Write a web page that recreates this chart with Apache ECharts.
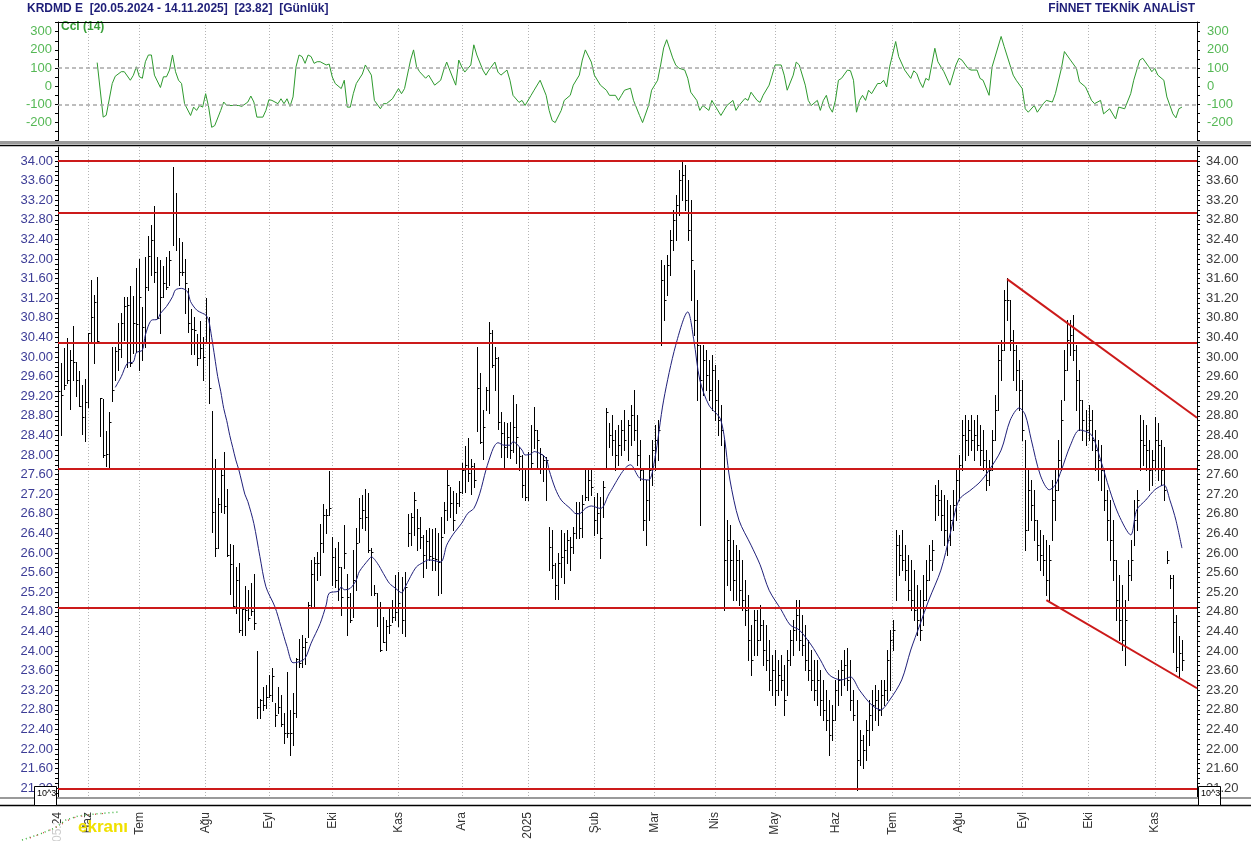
<!DOCTYPE html>
<html><head><meta charset="utf-8">
<script src="https://cdn.jsdelivr.net/npm/echarts@6/dist/echarts.min.js"></script>
<style>html,body{margin:0;padding:0;background:#fff;}#c{width:1251px;height:841px;}</style>
</head><body><div id="c"></div>
<script>
// ---- data ----
const monthTicks = [[0,'05.24'],[10,'Haz'],[27,'Tem'],[49,'Ağu'],[70,'Eyl'],[91,'Eki'],[113,'Kas'],[134,'Ara'],[156,'2025'],[178,'Şub'],[198,'Mar'],[218,'Nis'],[238,'May'],[258,'Haz'],[277,'Tem'],[299,'Ağu'],[320,'Eyl'],[342,'Eki'],[364,'Kas']];
const priceLabels = [21.20,21.60,22.00,22.40,22.80,23.20,23.60,24.00,24.40,24.80,25.20,25.60,26.00,26.40,26.80,27.20,27.60,28.00,28.40,28.80,29.20,29.60,30.00,30.40,30.80,31.20,31.60,32.00,32.40,32.80,33.20,33.60,34.00];
const cciLabels = [-200,-100,0,100,200,300];
const levels = [34.00,32.94,30.29,27.71,24.88,21.19];
const trendUpper = [[315,31.59],[378,28.76]];
const trendLower = [[328,25.04],[378,23.24]];
const highs = [29.60,29.87,30.18,30.38,30.14,30.63,29.90,29.72,29.43,29.56,30.48,31.57,31.27,31.64,29.16,29.14,28.48,28.88,30.20,30.21,30.69,30.89,31.23,31.23,31.45,31.25,31.81,32.01,31.03,32.05,32.47,32.69,33.08,32.05,31.98,31.86,32.05,32.17,33.88,33.34,32.42,32.35,32.01,31.40,30.97,30.82,30.47,30.74,30.41,31.20,30.82,28.90,27.91,27.12,27.69,28.07,27.30,26.18,26.16,25.71,25.80,24.87,25.33,25.25,25.39,25.57,23.99,23.03,23.27,23.31,23.51,23.65,22.93,23.27,23.10,22.73,23.58,22.80,23.14,23.85,24.24,24.33,24.26,24.99,25.86,25.92,26.03,26.60,27.01,26.89,27.68,26.32,26.10,26.23,25.72,26.57,25.57,25.19,26.06,26.52,27.12,27.18,27.30,27.22,26.10,25.35,25.18,25.01,24.70,24.63,24.87,25.04,25.55,25.62,25.52,25.62,26.80,26.82,27.25,26.89,26.73,26.37,26.47,26.50,26.48,26.50,26.40,26.74,27.05,27.73,27.35,27.27,27.22,27.46,27.83,28.18,28.34,27.91,27.84,30.21,29.67,28.92,29.38,30.72,30.56,30.21,29.99,28.88,28.68,28.66,28.68,29.22,29.05,28.17,28.00,27.73,28.07,28.61,28.97,28.51,28.14,28.00,27.96,26.54,26.47,25.79,25.99,26.47,26.40,26.47,26.33,26.54,27.05,27.05,27.18,27.69,27.69,27.69,27.15,27.22,27.15,27.46,28.95,28.65,
  28.82,28.51,28.61,28.71,28.92,28.71,29.02,29.33,28.82,28.31,27.69,27.49,28.00,28.31,28.61,28.71,31.98,31.88,32.08,32.59,33.00,33.31,33.82,34.02,33.92,33.61,33.20,31.78,31.16,30.24,30.24,30.14,29.94,30.04,29.84,29.53,29.02,28.31,26.67,26.57,26.27,26.16,26.06,25.86,25.45,25.14,24.53,24.84,24.84,24.94,24.63,24.53,24.22,23.92,24.02,23.82,23.92,23.71,24.02,24.43,24.63,25.04,25.04,24.73,24.53,24.22,24.02,23.82,23.82,23.61,23.41,23.20,23.00,22.90,23.41,23.61,23.82,24.02,24.06,23.82,23.20,23.00,22.39,22.29,22.59,23.00,23.20,23.31,23.20,23.41,23.41,24.02,24.43,24.63,26.47,26.37,26.47,26.16,25.96,25.86,25.65,25.35,25.24,25.55,25.86,26.16,26.27,27.39,27.49,27.29,27.18,27.08,26.98,27.29,27.69,28.00,28.71,28.82,28.71,28.82,28.71,28.82,28.61,28.51,28.10,27.90,28.51,29.22,30.24,30.35,31.37,31.61,31.16,30.55,30.24,29.94,29.53,28.31,27.69,27.49,27.29,26.67,26.47,26.37,26.27,26.16,27.49,27.69,28.31,29.12,30.14,30.76,30.76,30.86,30.24,29.73,29.12,28.92,29.02,28.92,28.51,28.31,28.20,27.69,27.29,27.08,26.67,25.86,25.55,25.35,25.04,25.86,26.27,27.08,27.29,28.82,28.71,28.61,28.31,28.10,28.78,28.65,28.31,28.17,26.05,25.55,25.55,24.73,24.31,24.22];
const lows = [28.60,28.41,29.34,29.46,28.93,29.53,29.20,28.99,28.43,28.29,28.97,30.32,29.87,30.31,28.39,27.95,27.77,27.76,29.11,29.53,29.73,30.01,30.35,29.80,29.82,30.09,30.11,29.73,29.94,30.21,31.37,31.67,31.54,30.79,30.48,31.23,31.38,31.47,32.29,32.18,31.47,31.67,30.89,30.52,30.06,30.07,29.84,29.97,29.53,30.28,29.07,26.42,25.94,26.11,26.84,26.82,25.93,25.16,24.91,24.77,24.39,24.33,24.33,24.63,24.73,24.44,22.63,22.63,22.80,22.83,23.07,22.97,22.46,22.73,22.46,22.13,22.25,21.88,22.08,22.66,23.68,23.68,23.73,24.29,24.90,24.90,25.45,25.55,26.03,26.40,26.78,25.35,25.31,25.04,24.73,25.69,24.33,24.60,24.70,25.25,26.23,26.50,26.47,26.03,25.14,25.14,24.50,23.99,24.19,24.02,24.36,24.60,24.63,24.50,24.36,24.31,26.14,26.16,26.37,26.06,26.10,25.52,25.70,25.86,25.65,25.65,25.14,25.18,26.40,26.67,26.74,26.47,26.81,26.95,27.22,27.25,27.46,27.20,27.35,28.48,28.24,27.91,28.92,28.85,29.80,29.33,28.54,27.96,27.76,27.96,27.93,28.07,27.83,27.69,27.15,27.08,27.08,27.73,28.14,27.76,27.63,27.46,27.08,25.65,25.48,25.07,25.07,25.52,25.38,25.79,25.65,26.00,26.30,26.30,26.33,27.08,27.08,27.18,26.37,26.40,25.89,26.74,27.73,28.17,
  28.00,27.69,27.80,28.00,28.10,27.90,28.20,28.31,27.80,27.49,26.47,26.16,26.67,27.39,27.69,27.90,30.24,30.76,31.27,31.67,32.18,32.39,32.90,33.20,33.00,32.39,31.16,30.45,29.12,26.57,29.22,29.33,29.12,28.92,28.71,28.41,28.20,24.84,25.35,25.24,25.04,25.04,24.94,24.84,24.53,23.82,23.51,23.92,23.92,24.22,23.71,23.61,23.20,23.10,22.90,23.10,23.20,22.69,23.10,23.71,23.92,24.22,24.02,23.92,23.61,23.41,23.20,23.00,22.90,22.69,22.59,22.39,21.88,22.18,22.59,22.90,23.10,23.31,23.20,22.80,22.59,21.16,21.67,21.61,21.78,22.08,22.39,22.59,22.49,22.69,22.90,23.00,23.20,24.02,25.04,25.55,25.65,25.45,25.04,24.84,24.63,24.33,24.22,24.53,25.04,25.45,25.65,26.67,26.78,26.47,26.16,25.96,26.16,26.47,26.67,27.08,27.69,27.90,28.00,28.10,27.90,28.10,27.80,27.69,27.29,27.39,27.69,28.31,28.92,29.53,30.14,30.76,30.14,29.53,29.33,28.92,28.31,26.06,26.47,26.67,26.27,25.86,25.65,25.55,25.14,25.04,26.27,26.67,27.29,27.69,29.12,29.73,30.04,29.94,28.92,28.51,28.31,28.20,28.31,28.10,27.69,27.49,27.29,26.88,26.27,25.86,25.45,24.63,24.22,24.02,23.71,25.04,25.45,26.16,26.47,27.69,27.80,27.69,27.29,27.39,27.69,27.49,27.39,27.08,25.80,25.29,23.98,23.59,23.47,23.61];
const closes = [29.30,29.22,29.43,29.53,29.94,29.90,29.53,29.00,28.78,29.09,30.48,30.82,31.13,30.33,29.16,28.01,28.02,28.67,29.33,30.13,30.16,30.69,31.04,31.06,29.87,30.69,30.67,31.23,30.62,31.43,32.06,32.39,31.74,30.79,31.23,31.50,31.43,31.98,32.93,32.93,31.74,31.74,31.50,30.70,30.58,30.55,29.97,30.18,30.01,30.28,29.36,26.84,26.10,27.01,27.59,26.95,25.96,25.78,24.92,25.45,24.43,24.85,24.84,24.67,24.82,24.58,22.85,23.01,22.90,23.07,23.10,23.48,22.69,22.86,22.51,22.32,22.32,22.32,22.73,23.83,23.76,24.09,24.19,24.94,25.57,25.79,25.79,26.21,26.78,26.78,26.91,25.92,25.45,25.72,25.11,25.99,25.11,24.63,25.45,26.20,26.71,26.88,26.74,26.06,26.03,25.18,24.87,24.02,24.19,24.50,24.53,24.70,24.80,24.97,24.63,25.31,26.40,26.73,27.08,26.50,26.33,25.96,26.25,25.93,25.89,25.87,25.82,26.33,26.88,27.39,27.03,26.67,27.03,27.25,27.69,27.80,27.63,27.78,27.49,29.36,28.27,28.58,29.33,30.48,29.84,29.97,28.68,28.44,28.17,28.37,28.10,28.58,28.37,27.98,27.39,27.15,27.73,27.83,28.51,28.31,28.03,27.90,27.90,26.13,25.76,25.35,25.79,25.92,26.06,26.27,26.13,26.40,26.81,26.50,27.01,27.15,27.49,27.35,26.67,26.81,26.30,27.35,28.88,28.40,
  28.31,28.00,28.20,28.51,28.31,28.61,28.82,28.51,28.00,27.69,26.67,27.08,27.69,28.10,28.31,28.51,31.57,31.16,31.88,32.39,32.80,33.10,33.61,33.71,33.20,32.59,31.98,30.76,30.24,29.53,29.94,29.63,29.33,29.73,29.12,28.71,28.51,25.86,26.27,25.86,25.45,25.86,25.24,25.04,24.84,24.22,23.82,24.63,24.22,24.53,24.02,23.82,23.41,23.61,23.20,23.51,23.41,23.00,23.82,24.22,24.43,24.73,24.22,24.12,23.82,23.61,23.41,23.20,23.41,23.00,22.80,22.59,22.29,22.59,23.20,23.41,23.61,23.71,23.41,23.00,22.69,21.78,22.18,21.98,22.39,22.69,22.90,23.00,22.80,23.10,23.20,23.82,24.22,24.43,26.16,25.96,25.86,25.65,25.24,25.04,24.84,24.63,24.43,25.04,25.45,25.86,26.06,27.18,27.08,26.78,26.47,26.27,26.67,26.98,27.49,27.80,28.41,28.31,28.51,28.31,28.41,28.20,28.10,27.90,27.49,27.69,28.31,28.92,29.94,30.14,31.16,31.16,30.35,30.14,29.73,29.33,28.51,26.47,27.29,26.98,26.67,26.16,25.96,25.86,25.45,25.86,27.08,27.29,27.90,28.71,29.73,30.35,30.45,30.14,29.53,29.12,28.71,28.51,28.71,28.31,28.10,27.90,27.69,27.08,26.67,26.27,25.86,25.04,24.63,24.22,24.63,25.55,25.86,26.67,27.08,28.31,28.20,28.10,27.69,27.90,28.31,28.20,27.69,27.29,25.86,25.49,24.60,23.68,23.96,23.82];
const maPoints = [[19,29.38],[21,29.60],[23,29.87],[25,29.90],[26,30.09],[28,30.14],[29,30.45],[31,30.75],[33,30.77],[34,30.89],[36,31.03],[38,31.23],[39,31.37],[41,31.40],[43,31.33],[44,31.13],[46,30.96],[48,30.89],[49,30.86],[50,30.75],[51,30.40],[52,30.00],[53,29.60],[54,29.30],[55,28.95],[56,28.70],[57,28.40],[58,28.15],[59,27.90],[60,27.70],[61,27.45],[62,27.20],[63,27.05],[65,26.60],[67,25.93],[69,25.31],[72,24.90],[74,24.50],[76,24.09],[78,23.76],[80,23.78],[82,23.85],[84,24.16],[87,24.56],[89,24.94],[90,25.18],[93,25.22],[94,25.31],[95,25.25],[97,25.28],[99,25.45],[100,25.62],[103,25.86],[104,25.92],[106,25.79],[108,25.58],[110,25.38],[112,25.28],[114,25.19],[115,25.28],[117,25.52],[119,25.72],[121,25.80],[123,25.86],[127,25.82],[129,26.16],[131,26.37],[134,26.61],[136,26.81],[138,26.91],[140,27.22],[142,27.69],[144,28.07],[145,28.20],[146,28.25],[148,28.20],[150,28.20],[151,28.27],[152,28.24],[154,28.10],[155,28.00],[157,28.02],[158,28.07],[160,28.03],[162,27.93],[163,27.69],[165,27.32],[167,27.08],[170,26.91],[172,26.80],[173,26.80],[175,26.91],[177,26.96],[180,26.91],[181,26.95],[183,27.22],[190,27.8],[193,27.53],[196,27.49],[198,27.9],[201,29.12],[205,30.24],[209,30.92],[211,30.35],[213,29.53],[216,29.02],[220,28.71],[223,27.49],[226,26.67],[230,26.16],[233,25.76],[236,25.24],[240,24.84],[243,24.53],[246,24.43],[250,24.12],[253,23.82],[256,23.51],[260,23.41],[263,23.47],[266,23.2],[270,22.9],[273,22.8],[276,23.0],[280,23.41],[283,24.02],[286,24.53],[289,25.04],[293,25.65],[296,26.37],[299,27.08],[303,27.29],[306,27.45],[309,27.69],[313,28.10],[316,28.71],[319,28.96],[321,28.82],[323,28.31],[326,27.59],[329,27.29],[331,27.39],[333,27.69],[336,28.20],[339,28.51],[343,28.41],[346,27.90],[349,27.29],[352,26.78],[356,26.37],[358,26.88],[361,27.08],[364,27.29],[367,27.39],[369,27.08],[371,26.67],[373,26.10]];
const cciPoints = [[13,130],[15,-170],[16,-160],[18,15],[19,55],[21,80],[22,80],[24,33],[25,60],[26,107],[27,52],[28,44],[29,135],[30,172],[31,172],[32,61],[34,-7],[35,52],[36,52],[37,89],[38,172],[39,80],[40,33],[41,15],[42,-96],[44,-161],[45,-115],[46,-133],[47,-106],[48,-115],[49,-41],[50,-115],[51,-226],[52,-217],[54,-133],[55,-87],[56,-106],[58,-106],[60,-106],[61,-111],[63,-87],[64,-54],[65,-87],[66,-170],[68,-170],[69,-133],[70,-74],[71,-78],[73,-96],[74,-69],[75,-96],[76,-69],[77,-111],[78,-59],[79,107],[80,172],[81,163],[82,126],[83,172],[84,163],[85,126],[86,135],[87,135],[89,117],[90,122],[91,52],[92,15],[94,-13],[95,33],[96,-115],[97,-115],[98,-41],[99,15],[101,67],[102,117],[104,61],[105,-78],[107,-124],[108,-96],[109,-96],[111,-69],[112,-41],[113,-13],[114,-41],[115,-13],[117,144],[118,200],[119,107],[120,80],[122,44],[123,61],[125,6],[127,33],[128,89],[129,133],[130,89],[132,6],[133,144],[134,106],[135,78],[137,117],[138,228],[139,172],[141,89],[142,61],[143,89],[145,133],[146,78],[147,61],[149,89],[150,33],[151,-50],[153,-89],[154,-78],[155,-106],[157,-50],[158,-22],[160,33],[162,-50],[163,-133],[164,-189],[165,-200],[167,-133],[168,-78],[170,-50],[171,6],[173,61],[174,144],[175,200],[177,133],[178,61],[180,6],[182,-22],[183,-50],[185,-50],[186,-78],[187,-50],[188,-22],[190,-11],[191,-78],[193,-161],[194,-200],[196,-106],[197,-22],[199,33],[200,117],[201,211],[202,256],[204,156],[205,117],[206,100],[208,89],[209,44],[210,-33],[212,-78],[213,-133],[214,-106],[216,-133],[217,-78],[218,-106],[220,-161],[221,-133],[222,-106],[224,-78],[225,-133],[226,-106],[228,-67],[229,-78],[230,-33],[232,-78],[233,-89],[234,-50],[236,6],[237,61],[238,117],[240,117],[241,61],[242,-22],[244,61],[245,133],[246,117],[248,6],[249,-78],[250,-106],[252,-78],[253,-133],[254,-78],[255,-50],[256,-115],[257,-143],[258,-78],[259,33],[260,43],[262,89],[263,85],[264,33],[265,-143],[266,-78],[267,-50],[268,-78],[269,-22],[270,-41],[272,15],[273,15],[274,33],[275,-4],[276,107],[278,246],[279,163],[281,89],[283,43],[284,85],[285,70],[286,24],[287,-7],[288,43],[289,33],[291,209],[292,135],[294,80],[296,6],[298,117],[299,154],[300,144],[302,98],[303,89],[305,89],[306,43],[307,33],[309,-50],[310,107],[313,274],[314,219],[317,61],[318,33],[320,-13],[321,-124],[322,-143],[324,-106],[325,-143],[327,-96],[328,-78],[330,-87],[331,-41],[333,98],[334,191],[336,144],[338,98],[339,24],[341,-4],[343,-78],[344,-96],[346,-78],[347,-152],[349,-124],[351,-180],[352,-115],[354,-124],[356,-41],[357,33],[359,144],[360,154],[362,107],[363,80],[364,98],[365,61],[367,33],[368,-59],[370,-152],[371,-174],[372,-124],[373,-115]];

// ---- chart ----
const N = 379;
const cats = Array.from({length:N},(_,i)=>String(i));
const tickIdx = new Set(monthTicks.map(t=>t[0]));
const tickName = Object.fromEntries(monthTicks.map(t=>[String(t[0]),t[1]]));
const priceTicks = []; for(let k=210;k<=342;k++) priceTicks.push(+(k/10).toFixed(1));
const cciTicks = []; for(let k=-300;k<=350;k+=50) cciTicks.push(k);
const FONT = '"Liberation Sans", Arial, sans-serif';
const barData = highs.map((h,i)=>[i,h,lows[i],closes[i]]);
const iv = (idx)=>tickIdx.has(idx);
const dotted = {show:true, interval: iv, lineStyle:{color:'#b4b4b4', type:[1,2], width:1}};

const chart = echarts.init(document.getElementById('c'), null, {renderer:'canvas'});
chart.setOption({
  animation:false,
  backgroundColor:'#fff',
  grid:[{left:58, top:22, width:1139, height:120, outerBoundsMode:'none', containLabel:false},
        {left:58, top:147, width:1139, height:651, outerBoundsMode:'none', containLabel:false}],
  xAxis:[
    {type:'category', gridIndex:0, data:cats, boundaryGap:false, axisLine:{show:false}, axisTick:{show:false}, axisLabel:{show:false}, splitLine:dotted},
    {type:'category', gridIndex:1, data:cats, boundaryGap:false, axisLine:{show:false}, axisTick:{show:false},
     axisLabel:{show:true, interval: iv, rotate:90, margin:14, formatter:(v)=>tickName[v]||'', color:'#333', fontSize:12, fontFamily:FONT},
     splitLine:dotted}
  ],
  yAxis:[
    {type:'value', gridIndex:0, min:-307, max:353.6, position:'left', axisLine:{show:true, lineStyle:{color:'#000'}},
     axisTick:{show:true, customValues:cciTicks, length:3, lineStyle:{color:'#000'}}, splitLine:{show:false},
     axisLabel:{customValues:cciLabels, color:'#55b855', fontSize:13, fontFamily:FONT, margin:6}},
    {type:'value', gridIndex:0, min:-307, max:353.6, position:'right', axisLine:{show:true, lineStyle:{color:'#000'}},
     axisTick:{show:true, customValues:cciTicks, length:3, lineStyle:{color:'#000'}}, splitLine:{show:false},
     axisLabel:{customValues:cciLabels, color:'#55b855', fontSize:13, fontFamily:FONT, margin:10}},
    {type:'value', gridIndex:1, min:21.0, max:34.2857, position:'left', axisLine:{show:true, lineStyle:{color:'#000'}},
     axisTick:{show:true, customValues:priceTicks, length:3, lineStyle:{color:'#000'}}, splitLine:{show:false},
     axisLabel:{customValues:priceLabels, formatter:(v)=>v.toFixed(2), color:'#3c3c96', fontSize:13, fontFamily:FONT, margin:5}},
    {type:'value', gridIndex:1, min:21.0, max:34.2857, position:'right', axisLine:{show:true, lineStyle:{color:'#000'}},
     axisTick:{show:true, customValues:priceTicks, length:3, lineStyle:{color:'#000'}}, splitLine:{show:false},
     axisLabel:{customValues:priceLabels, formatter:(v)=>v.toFixed(2), color:'#3a3a3a', fontSize:13, fontFamily:FONT, margin:9}}
  ],
  series:[
    {type:'line', name:'CCI', xAxisIndex:0, yAxisIndex:0, data:cciPoints, showSymbol:false, symbol:'none',
     lineStyle:{color:'#2e9a2e', width:1}, z:3,
     markLine:{silent:true, symbol:'none', label:{show:false}, lineStyle:{color:'#a8a8a8', type:[4,3], width:1.5},
       data:[{yAxis:100},{yAxis:-100}]}},
    {type:'custom', name:'Bars', xAxisIndex:1, yAxisIndex:2, data:barData, clip:false, z:2,
     encode:{x:0, y:[1,2,3]},
     renderItem:(params, api)=>{
       const i = api.value(0);
       const hi = api.coord([i, api.value(1)]);
       const lo = api.coord([i, api.value(2)]);
       const cl = api.coord([i, api.value(3)]);
       const x = Math.round(hi[0]) + 0.5;
       const yc = Math.round(cl[1]) + 0.5;
       return {type:'group', children:[
         {type:'line', shape:{x1:x, y1:Math.round(hi[1]), x2:x, y2:Math.round(lo[1])+1}, style:{stroke:'#000', lineWidth:1}},
         {type:'line', shape:{x1:x, y1:yc, x2:x+2, y2:yc}, style:{stroke:'#000', lineWidth:1}}
       ]};
     }},
    {type:'line', name:'MA', xAxisIndex:1, yAxisIndex:2, data:maPoints, showSymbol:false, symbol:'none', smooth:0.3,
     lineStyle:{color:'#20207a', width:1}, z:3},
    {type:'line', name:'levels', xAxisIndex:1, yAxisIndex:2, data:[], z:5,
     markLine:{silent:true, symbol:'none', label:{show:false}, lineStyle:{color:'#cc1a1a', type:'solid', width:2},
       data: levels.map(v=>({yAxis:v}))}},
    {type:'line', name:'up', xAxisIndex:1, yAxisIndex:2, data:trendUpper, symbol:'none', lineStyle:{color:'#cc1a1a', width:2}, z:5},
    {type:'line', name:'down', xAxisIndex:1, yAxisIndex:2, data:trendLower, symbol:'none', lineStyle:{color:'#cc1a1a', width:2}, z:5}
  ],
  graphic:[
    {type:'text', left:27, top:3, z:100, style:{text:'KRDMD E  [20.05.2024 - 14.11.2025]  [23.82]  [Günlük]', font:'bold 12px '+FONT, fill:'#1e1e78'}},
    {type:'text', right:56, top:3, z:100, style:{text:'FİNNET TEKNİK ANALİST', font:'bold 12px '+FONT, fill:'#1e1e78'}},
    {type:'text', left:61, top:21, z:100, style:{text:'Cci (14)', font:'bold 12px '+FONT, fill:'#3aa03a'}},
    {type:'line', z:100, shape:{x1:58, y1:22.5, x2:1197, y2:22.5}, style:{stroke:'#000', lineWidth:1}},
    {type:'rect', z:100, shape:{x:0, y:141, width:1251, height:3}, style:{fill:'#9a9a9a'}},
    {type:'line', z:100, shape:{x1:0, y1:145.5, x2:1251, y2:145.5}, style:{stroke:'#000', lineWidth:1.5}},
    {type:'rect', z:100, shape:{x:0, y:797, width:1251, height:2}, style:{fill:'#9a9a9a'}},
    {type:'line', z:100, shape:{x1:0, y1:805.5, x2:1251, y2:805.5}, style:{stroke:'#000', lineWidth:1.5}},
    {type:'rect', z:100, shape:{x:34.5, y:786.5, width:22, height:19}, style:{fill:'#fff', stroke:'#000', lineWidth:1}},
    {type:'text', z:101, left:37, top:789, style:{text:'10^3', font:'9px '+FONT, fill:'#000'}},
    {type:'rect', z:100, shape:{x:1198.5, y:786.5, width:22, height:19}, style:{fill:'#fff', stroke:'#000', lineWidth:1}},
    {type:'text', z:101, left:1201, top:789, style:{text:'10^3', font:'9px '+FONT, fill:'#000'}},
    {type:'rect', z:100, shape:{x:18, y:823, width:60, height:18}, style:{fill:'rgba(255,255,255,0.75)'}},
    {type:'polyline', z:101, shape:{points:[[22,840],[40,834],[55,828],[66,820],[78,816],[95,814],[118,812]]}, style:{stroke:'#3cb43c', lineWidth:1.5, lineDash:[1,3], fill:null}},
    {type:'polyline', z:101, shape:{points:[[30,838],[48,831],[62,824],[72,818],[88,815],[108,813]]}, style:{stroke:'#d04040', lineWidth:1.2, lineDash:[1,6], fill:null}},
    {type:'text', z:101, left:78, top:819, style:{text:'ekranı', font:'bold 17px '+FONT, fill:'#f0e000'}}
  ]
});
</script></body></html>
